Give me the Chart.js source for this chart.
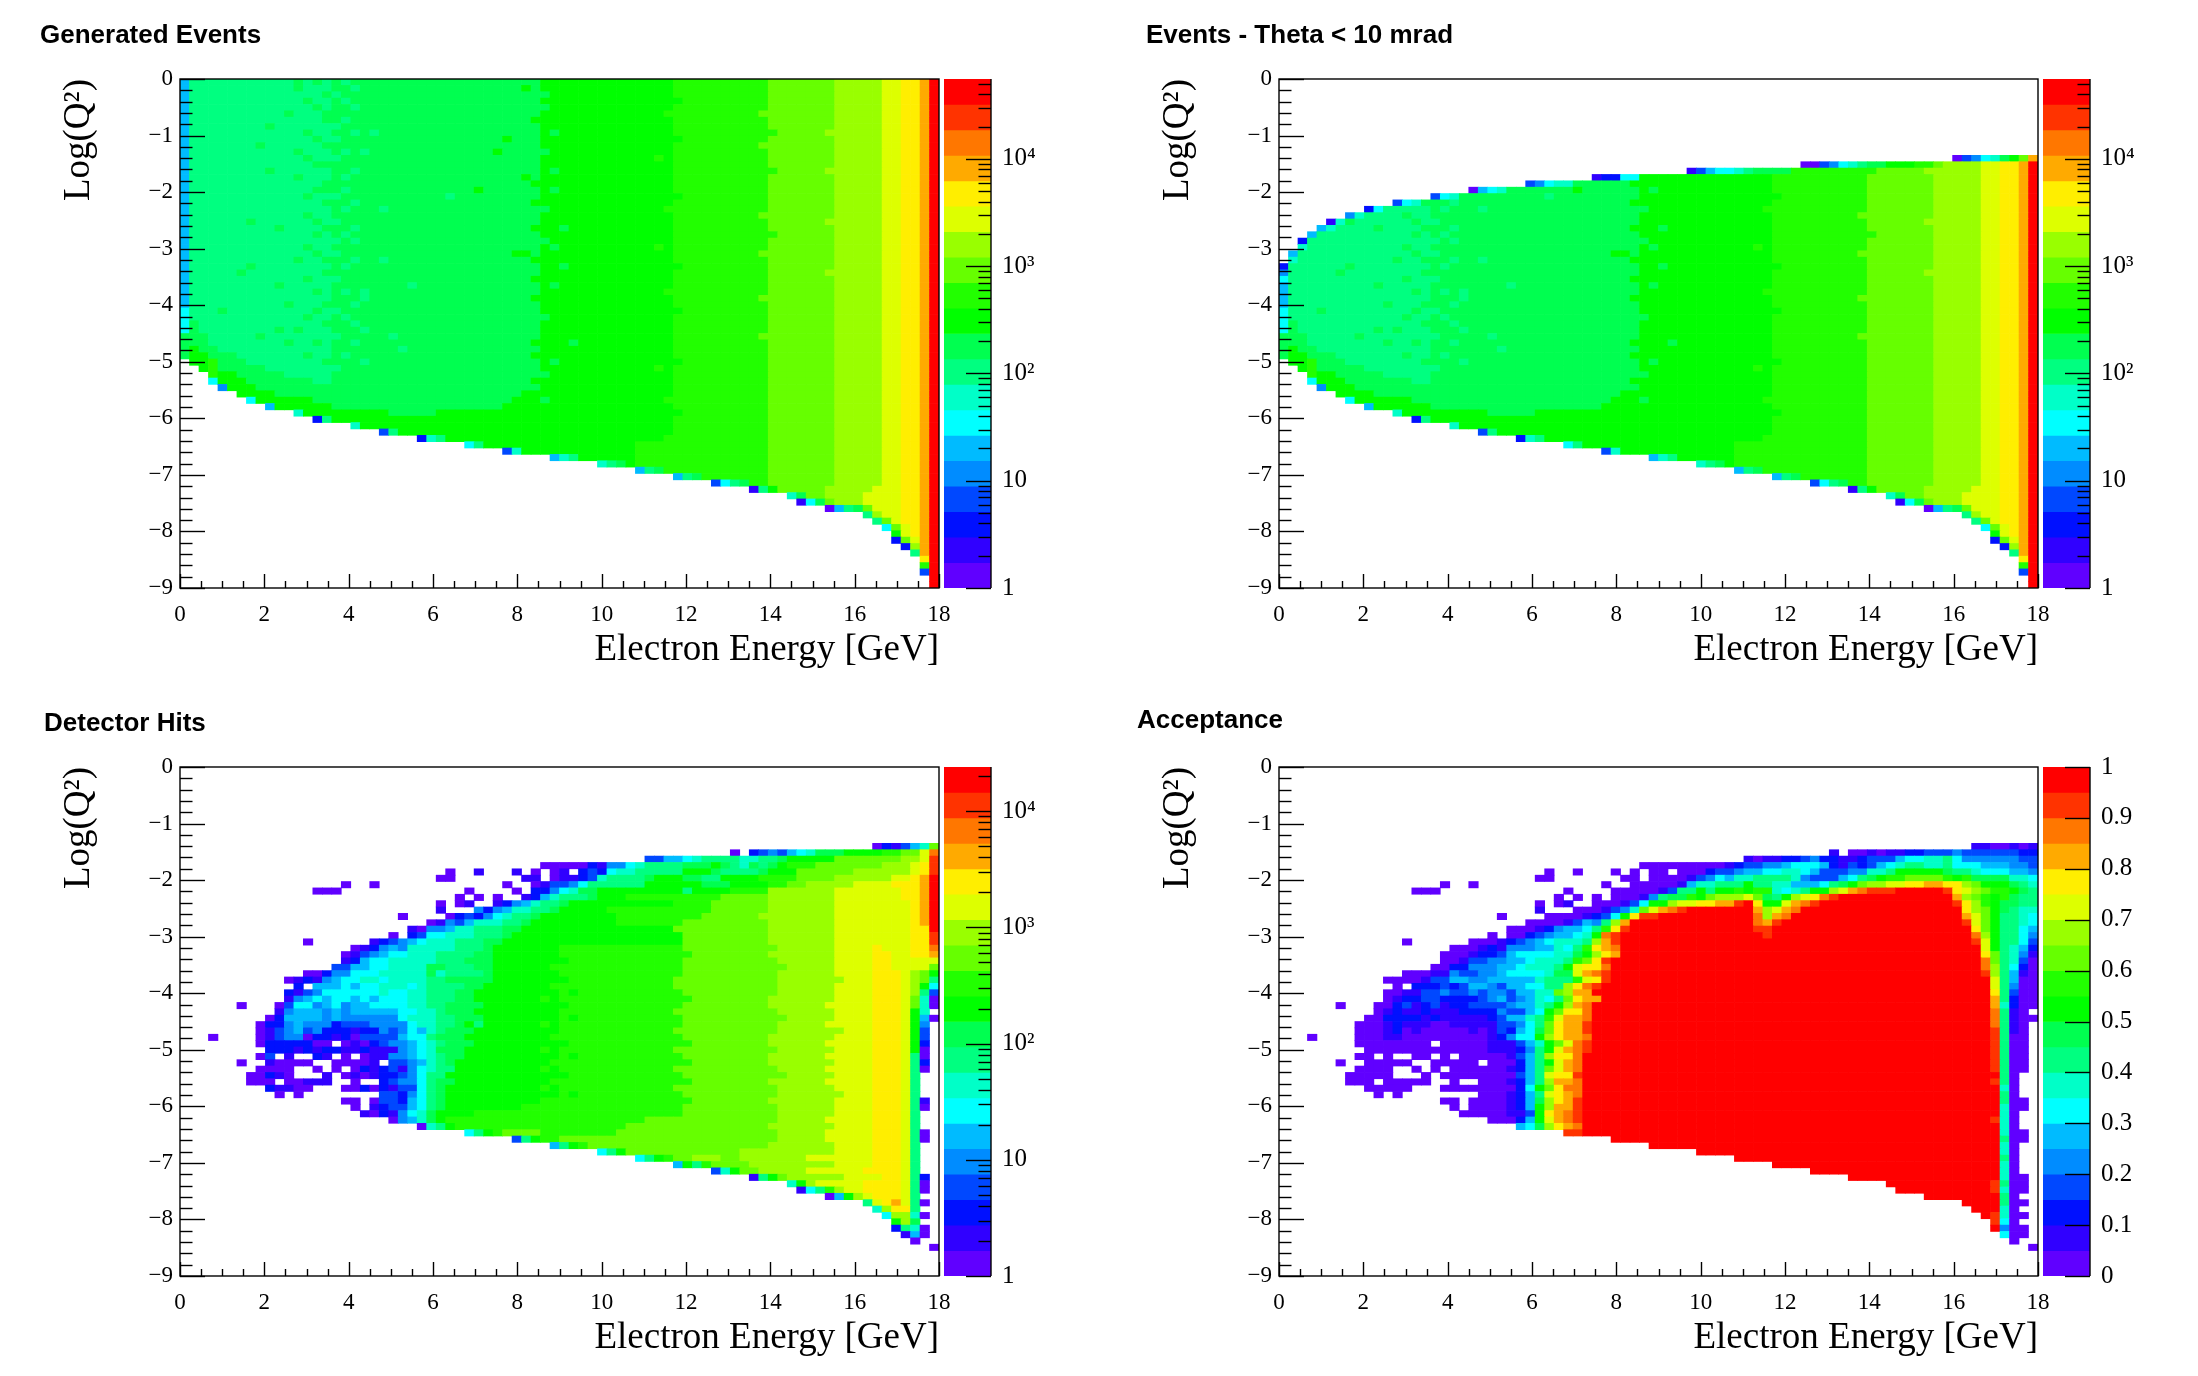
<!DOCTYPE html>
<html>
<head>
<meta charset="utf-8">
<title>Acceptance</title>
<script src="https://cdn.jsdelivr.net/npm/chart.js@4"></script>
<style>
  html, body { margin: 0; background: #fff; }
  #page { position: relative; width: 2198px; height: 1376px; overflow: hidden; }
  canvas { position: absolute; }
</style>
</head>
<body>
<div id="page"></div>
<script>
// tick labels
var energyTicks = [0, 2, 4, 6, 8, 10, 12, 14, 16, 18];
var q2Ticks = [-9, -8, -7, -6, -5, -4, -3, -2, -1, 0];
var logBarTicks = [1, 10, 100, 1000, 10000];
var logBarLabels = ['1', '10', '10\u00b2', '10\u00b3', '10\u2074'];
var acceptanceBarTicks = [0, 0.1, 0.2, 0.3, 0.4, 0.5, 0.6, 0.7, 0.8, 0.9, 1];
var acceptanceBarLabels = ['0', '0.1', '0.2', '0.3', '0.4', '0.5', '0.6', '0.7', '0.8', '0.9', '1'];

// contour colours, bottom of the palette to the top
var contourColors = ['#6000ff', '#3000ff', '#0010ff', '#0048ff', '#008cff', '#00bbff', '#00ffff', '#00ffc8', '#00ff80', '#00ff50',
                     '#00ff00', '#22ff00', '#66ff00', '#99ff00', '#ddff00', '#ffee00', '#ffaa00', '#ff7700', '#ff3300', '#ff0000'];

// each list below is [start, level, start, level, ...] in 80x80 bins, level -1 is an empty bin
// generated events, per energy bin (index), start = Q2 bin counted from the top
var generatedColumns = [
  [0,5,36,6,40,9,44,-1], [0,8,38,9,42,10,45,-1], [0,8,40,9,43,10,46,-1], [0,8,42,9,44,11,47,6,48,-1], [0,8,43,9,46,10,48,4,49,-1],
  [0,8,43,9,46,10,49,-1], [0,8,44,9,47,10,50,-1], [0,8,45,9,48,10,50,6,51,-1], [0,8,45,9,49,10,51,-1], [0,8,46,9,49,10,51,5,52,-1],
  [0,8,46,9,50,10,52,-1], [0,8,47,9,50,10,52,-1], [0,8,47,9,50,10,52,7,53,-1], [0,8,47,9,50,10,53,-1], [0,8,48,9,51,10,53,2,54,-1],
  [0,8,48,9,51,10,53,8,54,-1], [0,9,52,10,54,-1], [0,9,52,10,54,-1], [0,9,52,10,54,7,55,-1], [0,9,52,10,55,-1],
  [0,9,52,10,55,-1], [0,9,52,10,55,3,56,-1], [0,9,53,10,55,8,56,-1], [0,9,53,10,56,-1], [0,9,53,10,56,-1],
  [0,9,53,10,56,2,57,-1], [0,9,53,10,56,7,57,-1], [0,9,52,10,56,8,57,-1], [0,9,52,10,57,-1], [0,9,52,10,57,-1],
  [0,9,52,10,57,6,58,-1], [0,9,52,10,57,8,58,-1], [0,9,52,10,58,-1], [0,9,52,10,58,-1], [0,9,51,10,58,3,59,-1],
  [0,9,50,10,58,7,59,-1], [0,9,49,10,59,-1], [0,9,49,10,59,-1], [0,10,59,-1], [0,10,59,5,60,-1],
  [0,10,59,7,60,-1], [0,10,59,8,60,-1], [0,10,60,-1], [0,10,60,-1], [0,10,60,7,61,-1],
  [0,10,60,8,61,-1], [0,10,60,9,61,-1], [0,10,61,-1], [0,10,57,11,61,5,62,-1], [0,10,57,11,61,8,62,-1],
  [0,10,57,11,61,9,62,-1], [0,10,56,11,62,-1], [0,11,62,5,63,-1], [0,11,62,8,63,-1], [0,11,62,9,63,-1],
  [0,11,63,-1], [0,11,63,3,64,-1], [0,11,63,6,64,-1], [0,11,63,8,64,-1], [0,11,63,9,64,-1],
  [0,11,64,1,65,-1], [0,11,64,8,65,-1], [0,12,64,10,65,-1], [0,12,65,-1], [0,12,65,7,66,-1],
  [0,12,65,9,66,1,67,-1], [0,12,66,6,67,-1], [0,12,66,9,67,-1], [0,12,64,13,66,12,67,0,68,-1], [0,13,67,5,68,-1],
  [0,13,67,8,68,-1], [0,13,67,9,68,-1], [0,13,65,14,67,12,68,8,69,-1], [0,13,64,14,68,13,69,8,70,-1], [0,14,69,12,70,6,71,-1],
  [0,14,70,12,71,10,72,2,73,-1], [0,15,70,14,72,12,73,2,74,-1], [0,15,72,14,73,13,74,8,75,-1], [0,16,75,15,76,11,77,3,78,-1], [0,19]
];
// [energy bin, Q2 bin, level] of the single bins that stand out from their neighbours
var generatedSpecks = [
  [12,0,9],[12,1,9],[11,5,9],[9,7,9],[8,10,9],[12,11,9],[9,14,9],[12,15,9],[7,22,9],[10,23,9],[6,30,9],[7,29,9],[12,28,9],[10,32,9],[11,35,9],[4,36,9],[12,39,9],[10,39,9],[8,40,9],[11,41,9],
  [14,0,9],[15,2,9],[15,6,9],[15,13,9],[15,17,9],[14,24,9],[15,38,9],
  [17,0,8],[18,4,8],[20,8,8],[16,9,8],[19,11,8],[17,15,8],[28,18,8],[17,20,8],[21,20,8],[18,23,8],[16,25,8],[18,25,8],[21,28,8],[17,29,8],[19,33,8],[19,34,8],[24,32,8],[19,39,8],[22,40,8],[18,41,8],[23,42,8],[19,44,8],
  [40,23,9],[39,17,9],[40,29,9],[39,32,9],[41,41,9],[39,44,9],[36,1,10],[34,9,10],[33,11,10],[31,17,10],[36,15,10],[35,27,10],[36,27,10],[37,34,10],
  [51,5,11],[50,12,11],[51,20,11],[50,26,11],[51,33,11],[50,45,11],[51,50,11],[61,5,12],[61,10,12],[61,21,12],[61,27,12],[61,34,12],[61,40,12],[62,8,11],[62,14,11],[62,24,11],[68,8,13],[68,14,13],[68,22,13],[68,30,13]
];
// [energy bin, level, [Q2 bins]] where a contour edge steps over by one bin
var generatedEdges = [
  [13,9,[3,8,12,18,21,26,31,37,43]], [14,9,[4,9,13,17,22,27,33,36,41]], [15,9,[5,10,16,19,23,28,30,35,44]],
  [16,8,[2,7,12,18,22,27,31,36,40,45]], [17,8,[3,6,11,17,24,33,37,43]], [18,8,[1,8,14,19,28,35,38]],
  [37,10,[6,16,19,23,28,31,41,43,47]], [38,9,[2,4,11,20,25,37,46,50]], [39,9,[8,14,26]], [52,10,[3,9,18,29,36,44,52]]
];

// theta < 10 mrad: first filled Q2 bin per energy bin, and the first bins along that edge
var thetaTop = [29,27,25,24,23,22,22,21,21,20, 20,20,19,19,19,19,18,18,18,18, 17,17,17,17,17,17,16,16,16,16, 16,16,16,15,15,15,15,15,15,15,
                15,15,15,14,14,14,14,14,14,14, 14,14,14,14,14,13,13,13,13,13, 13,13,13,13,13,13,13,13,13,13, 13,12,12,12,12,12,12,12,12,12];
var thetaEdge = [
  [0,29,2],[0,30,4],[0,31,6],[1,27,5],[1,28,7],[2,25,2],[2,26,7],[3,24,5],[4,23,5],[5,22,1],[5,23,7],[6,22,7],[7,21,4],[8,21,7],[9,20,2],[10,20,6],
  [12,19,3],[13,19,6],[14,19,7],[16,18,3],[17,18,6],[18,18,7],[20,17,0],[21,17,5],[22,17,6],[23,17,7],[26,16,3],[27,16,4],[28,16,6],[29,16,7],[30,16,7],
  [33,15,1],[34,15,2],[35,15,2],[36,15,6],[37,15,6],[43,14,1],[44,14,3],[45,14,5],[46,14,6],[47,14,6],[48,14,7],[49,14,8],[50,14,9],[51,14,9],[52,14,9],[53,14,9],
  [55,13,0],[56,13,0],[57,13,3],[58,13,4],[59,13,6],[60,13,7],[61,13,8],[62,13,9],[63,13,9],[64,13,10],[65,13,10],[66,13,10],[67,13,11],[68,13,11],[69,13,12],
  [71,12,0],[72,12,3],[73,12,4],[74,12,6],[75,12,7],[76,12,9],[77,12,10],[78,12,12],[79,12,16],[79,13,19],[78,13,16]
];

// detector hits, per Q2 bin (key), start = energy bin. hitsMiddle is the common right part of the middle rows
var hitsMiddle = [40,11,53,12,63,13,69,14,73,15,76,14];
var hitsRows = {
  12:[73,0,74,2,75,1,76,3,77,5,78,7,79,12],
  13:[58,0,59,-1,60,2,61,3,62,4,63,3,64,5,65,6,66,7,67,9,70,10,74,11,76,12,78,14,79,17],
  14:[49,3,51,5,53,6,54,7,55,8,59,7,61,8,63,9,64,10,69,12,76,13,78,14,79,18],
  15:[38,0,43,2,44,1,45,4,47,6,48,7,49,8,53,9,56,10,57,9,58,8,59,7,60,9,61,8,62,9,63,10,64,11,67,12,74,13,77,14,78,15,79,18],
  16:[28,0,29,-1,31,1,32,-1,35,1,36,-1,37,0,38,-1,39,0,40,1,41,-1,42,2,43,3,44,2,45,6,46,7,48,8,53,10,56,9,57,8,61,9,62,10,65,12,71,13,77,14,78,15,79,18],
  17:[27,0,29,-1,36,1,38,-1,39,0,40,1,42,2,43,3,44,7,45,8,49,9,50,10,53,9,55,8,57,10,61,11,65,12,69,13,75,14,77,15,78,16,79,19],
  18:[17,0,18,-1,20,0,21,-1,34,0,35,-1,37,0,38,1,39,3,41,4,42,6,43,8,49,10,55,9,58,10,62,11,64,12,66,13,71,14,75,15,78,16,79,19],
  19:[14,0,17,-1,30,0,31,-1,35,0,36,-1,37,2,39,4,40,6,41,7,42,9,44,10,53,8,54,10,58,11,62,13,69,14,76,15,78,16,79,19],
  20:[29,0,30,-1,31,0,32,-1,33,0,34,-1,36,1,37,2,38,5,39,7,40,8,43,9,44,10,47,11,57,12,62,13,69,14,76,15,78,16,79,19],
  21:[27,0,28,-1,29,0,30,1,31,-1,33,1,34,2,35,4,36,5,37,7,38,8,40,9,41,10,52,11,56,12,62,13,69,14,77,15,78,16,79,19],
  22:[27,1,28,-1,31,4,32,2,33,4,34,5,35,7,37,8,39,9,40,10,45,11,56,12,62,13,69,14,77,15,78,16,79,19],
  23:[23,0,24,-1,28,0,29,2,30,3,31,2,32,4,33,6,34,7,35,8,37,9,38,10,46,11,55,12,61,13,69,14,77,15,78,16,79,19],
  24:[26,0,27,1,28,4,29,3,30,5,31,7,34,8,36,9,37,10,46,11,53,12,62,13,69,14,77,15,78,16,79,19],
  25:[24,1,25,0,26,4,28,5,29,7,31,8,34,9,36,10,52,12,62,13,69,14,77,15,78,15,79,19],
  26:[22,0,23,-1,24,2,25,3,26,6,28,7,31,8,34,9,35,10,53,12,62,13,69,14,77,15,79,18],
  27:[13,0,14,-1,20,1,21,2,22,3,23,4,24,5,25,6,26,7,29,8,32,9,34,10,53,12,62,13,69,14,77,15,79,18],
  28:[18,0,19,1,20,2,21,4,22,5,23,4,24,7,29,8,32,9,33,10].concat(hitsMiddle),
  29:[17,0,18,1,19,3,20,4,21,5,22,6,24,7,27,8,31,9,33,10].concat(hitsMiddle),
  30:[17,1,18,2,19,5,20,6,22,7,27,8,30,9,33,10].concat(hitsMiddle),
  31:[16,3,18,5,20,6,22,7,26,9,28,8,31,9,33,10].concat(hitsMiddle),
  32:[13,0,15,2,16,4,18,6,21,7,26,9,27,7,28,8,32,9,33,10].concat(hitsMiddle),
  33:[11,0,12,1,13,2,14,1,15,4,16,5,17,6,19,7,21,6,22,7,26,8,28,9,33,10].concat(hitsMiddle),
  34:[12,2,13,-1,14,5,17,6,18,5,19,6,21,7,24,6,25,7,26,8,30,9,32,10].concat(hitsMiddle),
  35:[11,2,12,1,13,3,14,4,15,6,21,7,22,6,24,7,26,8,29,9,31,10].concat(hitsMiddle),
  36:[11,1,12,4,13,5,14,6,15,5,16,6,18,5,19,6,20,5,21,6,24,7,26,8,29,9,31,10].concat(hitsMiddle),
  37:[6,0,7,-1,10,0,11,3,12,6,14,4,15,5,16,6,17,4,18,5,20,6,24,7,26,8,28,9,32,10].concat(hitsMiddle),
  38:[10,1,11,4,12,5,15,4,16,5,17,4,18,5,23,6,25,7,27,8,28,9,31,10].concat(hitsMiddle),
  39:[9,0,10,2,11,5,15,4,16,5,17,4,23,6,24,7,27,8,29,9,32,10].concat(hitsMiddle),
  40:[8,0,9,2,11,4,12,5,13,4,16,2,17,3,20,4,24,6,25,7,27,8,29,9,30,10,31,8,32,10].concat(hitsMiddle),
  41:[8,0,9,1,10,3,11,4,12,5,13,3,14,4,15,2,18,1,19,2,21,4,22,3,23,4,24,6,25,5,26,7,27,8,28,9,31,10].concat(hitsMiddle),
  42:[3,0,4,-1,8,0,9,1,10,3,11,4,13,0,14,2,16,1,17,2,18,0,19,3,23,5,24,6,26,8,27,9,30,10].concat(hitsMiddle),
  43:[8,0,9,2,14,0,16,-1,17,0,18,1,19,0,20,2,21,3,22,4,24,5,25,6,26,7,27,8,28,9,31,10].concat(hitsMiddle),
  44:[9,2,12,1,13,2,14,1,15,2,17,1,19,2,20,1,23,4,24,5,25,6,26,7,27,9,30,10].concat(hitsMiddle),
  45:[8,0,9,3,10,-1,11,1,12,-1,14,2,15,1,16,-1,17,0,18,-1,19,0,20,1,22,4,24,5,25,6,26,7,27,8,28,9,30,10].concat(hitsMiddle),
  46:[6,0,7,-1,9,1,10,0,14,-1,16,0,20,1,21,-1,22,3,24,4,25,5,26,7,27,8,28,9,29,10].concat(hitsMiddle),
  47:[8,0,12,-1,14,0,15,-1,16,0,17,-1,18,0,19,2,20,1,21,2,22,3,23,1,24,4,25,6,26,7,27,8,29,10].concat(hitsMiddle),
  48:[7,0,9,2,10,1,11,0,12,-1,15,1,16,-1,17,0,18,1,19,0,20,1,21,2,23,3,24,4,25,6,26,8,28,10].concat(hitsMiddle),
  49:[7,0,10,-1,11,0,13,1,16,-1,18,0,19,-1,21,2,22,3,23,4,25,6,26,8,27,9,29,10].concat(hitsMiddle),
  50:[9,2,10,1,12,0,14,-1,17,0,19,2,20,0,21,2,22,1,23,3,25,6,26,8,27,9,28,10].concat(hitsMiddle),
  51:[10,0,11,-1,12,0,13,-1,21,3,23,2,24,4,25,6,26,8,27,9,28,10].concat(hitsMiddle),
  52:[17,0,19,-1,20,0,21,3,23,2,24,5,25,6,26,8,27,9,28,10,38,11,53,12,63,13,69,14,73,15,76,14],
  53:[18,0,19,-1,20,1,21,2,22,3,24,5,25,6,26,8,27,9,28,10,36,11,53,12,63,13,69,14,73,15,76,14],
  54:[19,1,20,0,21,2,22,1,23,4,24,6,25,7,26,9,27,10,31,11,53,12,63,13,69,14,73,15,76,14],
  55:[22,0,23,4,24,5,25,7,26,9,27,10,28,11,49,12,63,13,69,14,73,15,76,14],
  56:[25,0,26,7,27,8,28,10,29,11,47,12,63,13,69,14,73,15,76,14],
  57:[30,6,31,8,32,10,33,11,34,12,38,11,46,12,63,13,68,14,73,15,76,14],
  58:[35,3,36,8,37,10,38,11,40,12,63,13,68,14,73,15,76,14],
  59:[39,5,40,8,41,10,42,11,43,12,62,13,69,14,73,15,76,14],
  60:[44,6,45,8,46,10,47,12,59,13,69,14,73,15,76,14],
  61:[48,6,49,8,50,10,51,11,52,12,54,13,57,12,59,13,66,14,73,15,76,14],
  62:[52,5,53,10,54,8,55,11,56,12,60,13,69,14,73,15,76,14],
  63:[56,3,57,7,58,10,59,12,61,13,66,14,72,15,76,14],
  64:[60,1,61,8,62,10,63,12,64,13,70,14,74,15,76,14],
  65:[64,7,65,10,66,13,67,14,72,15,76,14],
  66:[65,1,66,6,67,8,68,11,69,13,70,14,72,15,76,14],
  67:[68,0,69,5,70,10,71,13,72,14,73,15,76,14],
  68:[72,8,73,14,74,15,75,16,76,14],
  69:[73,7,74,13,75,15],
  70:[74,6,75,13],
  71:[75,10,76,13],
  72:[75,2,76,8],
  73:[76,1]
};
// last energy bins of the hits, per energy bin (key), start = Q2 bin
var hitsLastColumns = {
  74:[28,14,29,15,69,13,70,6,71,-1],
  75:[28,14,32,15,68,16,69,15,70,13,71,10,72,2,73,-1],
  77:[28,15,30,14,32,13,36,12,38,10,45,8,70,7,71,9,72,7,73,5,74,0,75,-1],
  78:[28,15,30,14,32,12,34,10,35,8,36,7,39,5,40,4,41,3,43,2,44,0,46,2,47,0,48,-1,52,1,53,0,54,-1,57,0,59,-1,64,2,65,0,67,-1,68,0,69,-1,70,0,71,-1,72,0,74,-1],
  79:[28,17,29,16,30,14,31,12,32,10,33,8,34,6,35,3,36,0,38,-1,39,0,40,-1,75,0,76,-1]
};
var hitsEdges = [
  [52,12,[33,34,38,41,44,47,50]], [53,11,[29,36,43,46,49,52]], [62,13,[29,36,37,42,43,45,46,49,52,56]], [63,12,[31,39,48]],
  [68,14,[37,40,43,45,47,49,55]], [69,13,[33,41,51]], [38,11,[36,40,44,47,50]], [39,11,[31,34,42,46,49]], [40,10,[30,33,37,43,48]], [41,10,[35,39,45,51]]
];

// acceptance, same layout as the hits
var acceptanceRows = {
  12:[73,1,75,0,77,1,78,0,79,1],
  13:[58,1,59,-1,60,0,62,1,63,0,64,1,66,2,68,3,71,4,72,3,78,2],
  14:[49,1,50,0,51,1,53,2,55,3,56,4,57,2,59,1,61,2,62,3,65,5,66,6,68,7,70,8,71,6,72,4,78,3],
  15:[38,0,47,1,48,2,49,3,51,4,53,5,54,6,57,5,58,2,59,1,60,3,61,2,62,3,63,5,64,6,65,7,66,8,68,7,70,8,71,6,74,5,77,4,79,3],
  16:[28,0,29,-1,31,0,32,-1,35,0,36,-1,37,0,38,-1,39,0,41,-1,42,0,45,2,46,3,48,4,49,5,51,6,53,7,55,6,56,5,57,3,60,4,62,7,64,8,65,10,70,9,71,8,73,7,74,6,77,5,79,4],
  17:[27,0,29,-1,36,0,38,-1,39,0,43,1,44,3,45,4,46,6,47,5,48,7,50,8,54,7,55,4,56,3,59,5,60,6,61,8,62,9,63,10,64,11,66,12,70,11,71,10,72,11,73,9,77,7,79,6],
  18:[17,0,18,-1,20,0,21,-1,34,0,35,-1,37,0,42,1,43,5,44,7,46,8,49,10,50,8,52,7,54,5,57,6,58,8,59,9,60,10,61,12,62,13,64,14,66,15,68,16,70,15,72,13,73,12,74,10,77,9,78,8,79,7],
  19:[14,0,17,-1,30,0,31,-1,35,0,40,1,41,3,42,8,44,10,45,8,46,10,48,11,49,10,50,11,52,7,53,6,54,7,55,8,56,10,58,13,59,14,60,16,61,17,62,18,65,19,70,18,71,15,72,14,73,13,74,12,75,11,77,10,78,9,79,8],
  20:[29,0,30,-1,31,0,32,-1,33,0,34,-1,35,0,38,1,39,4,40,8,41,9,43,11,44,10,45,12,46,13,49,14,50,12,51,9,52,8,53,10,54,13,55,14,56,15,57,17,58,18,59,19,71,16,72,13,73,12,74,11,75,10,76,11,77,9,78,8],
  21:[27,0,28,-1,29,0,30,1,31,-1,33,0,36,1,37,3,38,6,39,10,41,13,42,14,44,15,46,16,48,18,49,19,50,15,51,10,53,14,54,16,55,17,56,18,57,19,71,18,72,15,73,13,74,11,75,10,76,9,78,8],
  22:[27,1,28,-1,31,0,34,1,35,3,36,4,37,7,38,12,39,14,40,16,41,17,42,18,43,19,50,16,51,13,52,14,53,16,54,17,55,19,72,15,73,13,74,12,75,10,76,9,77,8,78,7],
  23:[23,0,24,-1,28,0,32,1,33,2,34,3,35,6,36,10,37,15,38,18,40,19,50,17,51,13,52,16,53,17,54,19,72,16,73,14,74,12,75,10,76,8,78,7,79,6],
  24:[26,0,30,1,31,3,32,5,33,4,34,8,35,13,36,16,37,19,50,17,51,16,52,18,53,19,72,18,73,14,74,12,75,10,76,8,78,7,79,6],
  25:[24,0,27,1,28,2,29,4,30,5,32,6,33,8,34,11,35,15,36,18,37,19,50,18,52,19,73,15,74,12,75,10,76,8,78,6,79,5],
  26:[22,0,23,-1,24,0,26,2,27,3,28,4,29,5,31,6,32,7,33,10,34,17,35,18,36,19,51,18,52,19,73,17,74,13,75,10,76,8,78,6,79,4],
  27:[13,0,14,-1,20,0,23,1,24,2,25,3,26,4,27,5,28,6,29,7,32,8,33,13,34,16,35,18,36,19,73,18,74,14,75,10,76,8,78,6,79,3],
  28:[18,0,21,1,22,2,23,1,24,4,27,5,29,7,30,6,31,8,32,11,33,15,34,16,35,17,36,19],
  29:[17,0,20,1,21,2,23,3,24,5,25,6,29,7,31,9,32,10,33,13,34,15,35,16,36,19],
  30:[17,0,19,1,20,3,22,4,24,5,26,6,27,7,30,8,31,11,32,12,33,15,34,18,35,19],
  31:[16,0,18,2,20,4,23,5,25,6,26,7,29,8,30,10,31,14,32,15,34,17,35,19],
  32:[13,0,16,1,18,4,19,3,21,4,23,5,24,6,28,7,29,9,31,14,32,16,33,17,34,18,35,19],
  33:[11,0,15,1,16,3,18,5,20,4,22,5,27,7,28,8,31,11,32,14,33,15,34,18,35,19],
  34:[12,0,13,-1,14,2,17,3,18,2,19,3,20,5,22,4,23,3,24,5,26,6,28,8,30,13,31,15,32,17,33,18,34,19],
  35:[11,0,13,1,15,3,17,4,18,3,20,4,21,3,22,4,24,3,25,5,27,7,29,12,30,13,31,16,33,19],
  36:[11,0,12,1,13,2,15,3,17,2,21,3,22,4,23,5,24,3,25,4,26,5,27,7,28,6,29,8,30,12,31,15,32,16,34,19],
  37:[6,0,7,-1,10,0,12,2,13,3,14,1,15,2,16,3,17,1,18,2,20,3,24,4,25,5,27,7,28,8,29,10,30,13,31,16,32,17,33,19],
  38:[10,0,11,1,12,2,13,1,15,2,16,1,19,2,23,4,24,3,26,5,27,6,28,10,29,12,30,15,32,17,33,19],
  39:[9,0,11,2,15,1,16,2,17,1,22,2,23,3,24,5,26,7,27,8,28,11,29,14,30,16,32,17,33,19],
  40:[8,0,11,1,12,2,13,1,16,0,18,1,23,3,25,4,26,6,27,8,28,12,29,15,30,16,32,18,33,19],
  41:[8,0,11,1,12,2,13,0,14,1,15,0,20,1,21,0,22,1,23,3,24,2,25,5,26,6,27,9,28,12,29,15,30,16,32,18,33,19],
  42:[3,0,4,-1,8,0,11,1,13,0,22,1,23,2,24,4,25,6,27,10,28,13,29,15,30,16,32,17,33,19],
  43:[8,0,16,-1,17,0,22,1,25,3,26,5,27,7,28,10,29,12,30,14,31,17,32,18,33,19],
  44:[9,0,22,1,25,2,26,4,27,8,28,10,29,14,30,16,31,17,32,18,33,19],
  45:[8,0,10,-1,11,0,12,-1,14,0,16,-1,17,0,18,-1,19,0,24,1,25,3,26,5,27,8,28,13,29,15,31,17,32,19],
  46:[6,0,7,-1,9,0,14,-1,16,0,21,-1,22,0,25,2,26,5,27,8,28,10,29,14,30,16,31,17,32,19],
  47:[8,0,12,-1,14,0,15,-1,16,0,17,-1,18,0,24,1,25,2,26,5,27,8,28,12,29,14,30,16,31,17,32,19],
  48:[7,0,12,-1,15,0,16,-1,17,0,25,3,26,5,27,8,28,14,29,15,31,18,32,19],
  49:[7,0,10,-1,11,0,16,-1,18,0,19,-1,21,0,24,1,25,2,26,5,27,8,28,13,29,16,31,17,32,19],
  50:[9,0,14,-1,17,0,25,2,26,6,27,10,28,12,29,15,30,17,32,19],
  51:[10,0,11,-1,12,0,13,-1,21,0,24,1,25,2,26,5,27,8,28,14,29,15,30,16,31,17,32,19],
  52:[17,0,19,-1,20,0,24,1,25,2,26,5,27,9,28,13,29,15,30,16,31,18,32,19],
  53:[18,0,19,-1,20,0,24,1,25,2,26,5,27,10,28,13,29,16,31,18,32,19],
  54:[19,0,24,1,26,3,27,10,28,15,29,16,30,17,31,18,32,19],
  55:[22,0,25,2,26,5,27,10,28,14,29,16,30,17,31,18,32,19],
  56:[25,5,26,6,27,9,28,13,29,15,30,16,31,17,32,19],
  57:[30,18,32,19], 58:[35,19], 59:[39,19], 60:[44,19], 61:[48,19], 62:[52,19], 63:[56,19], 64:[60,19],
  65:[64,19], 66:[65,19], 67:[68,19], 68:[72,19], 69:[73,19], 70:[74,19], 71:[75,19], 72:[75,19]
};
var acceptanceLastColumns = {
  74:[28,14,29,15,30,17,32,18,33,19,71,-1],
  75:[28,10,29,12,31,13,33,14,35,15,36,16,38,17,41,18,48,19,49,18,50,19,55,18,56,19,65,18,67,19,70,18,72,19,73,-1],
  76:[28,8,37,7,38,8,50,7,51,8,53,7,58,8,59,7,61,8,62,7,65,8,66,7,67,8,69,7,71,6,72,4,73,6,74,-1],
  77:[28,7,31,6,32,5,34,4,35,3,36,2,38,1,42,0,75,-1],
  78:[28,5,29,4,30,3,31,2,32,1,33,0,48,-1,52,0,54,-1,57,0,59,-1,64,0,67,-1,68,0,69,-1,70,0,71,-1,72,0,74,-1],
  79:[28,2,29,1,30,0,38,-1,39,0,40,-1,75,0,76,-1]
};

var BINS = 80;
var energyBin = 18 / BINS;
var q2Bin = 9 / BINS;

function emptyGrid() {
  var grid = [];
  for (var r = 0; r < BINS; r++) {
    grid.push(new Array(BINS).fill(-1));
  }
  return grid;
}

// walks a [start, level, ...] list and hands every bin to set()
function eachRun(runs, set) {
  for (var i = 0; i < runs.length; i += 2) {
    var end = i + 2 < runs.length ? runs[i + 2] : BINS;
    for (var k = runs[i]; k < end; k++) set(k, runs[i + 1]);
  }
}

function paintColumn(grid, col, runs) {
  eachRun(runs, function(row, level) { grid[row][col] = level; });
}

function paintRows(grid, rows) {
  Object.keys(rows).forEach(function(row) {
    eachRun(rows[row], function(col, level) { grid[row][col] = level; });
  });
}

function paintColumns(grid, cols) {
  Object.keys(cols).forEach(function(col) { paintColumn(grid, col, cols[col]); });
}

function paintBins(grid, bins) {
  bins.forEach(function(b) { if (grid[b[1]][b[0]] >= 0) grid[b[1]][b[0]] = b[2]; });
}

function paintEdges(grid, edges) {
  edges.forEach(function(e) {
    e[2].forEach(function(row) { if (grid[row][e[0]] >= 0) grid[row][e[0]] = e[1]; });
  });
}

function toCells(grid) {
  var cells = [];
  for (var r = 0; r < BINS; r++) {
    for (var c = 0; c < BINS; c++) {
      if (grid[r][c] < 0) continue;
      cells.push({ x: (c + 0.5) * energyBin, y: [-(r + 1) * q2Bin, -r * q2Bin], level: grid[r][c] });
    }
  }
  return cells;
}

var generatedGrid = emptyGrid();
generatedColumns.forEach(function(runs, col) { paintColumn(generatedGrid, col, runs); });
paintBins(generatedGrid, generatedSpecks);
paintEdges(generatedGrid, generatedEdges);

var thetaGrid = generatedGrid.map(function(row) { return row.slice(); });
thetaTop.forEach(function(top, col) {
  for (var r = 0; r < top; r++) thetaGrid[r][col] = -1;
});
paintBins(thetaGrid, thetaEdge);

var hitsGrid = emptyGrid();
paintRows(hitsGrid, hitsRows);
paintEdges(hitsGrid, hitsEdges);
paintColumns(hitsGrid, hitsLastColumns);

var acceptanceGrid = emptyGrid();
paintRows(acceptanceGrid, acceptanceRows);
paintColumns(acceptanceGrid, acceptanceLastColumns);

var PLOT_W = 759, PLOT_H = 509;
var page = document.getElementById('page');

function addCanvas(left, top, w, h) {
  var c = document.createElement('canvas');
  c.width = w;
  c.height = h;
  c.style.left = left + 'px';
  c.style.top = top + 'px';
  c.style.width = w + 'px';
  c.style.height = h + 'px';
  page.appendChild(c);
  return c;
}

function serif(size) {
  return { family: 'Liberation Serif', size: size };
}

function strokeTicks(ctx, scale, values, length) {
  var area = scale.chart.chartArea;
  values.forEach(function(v) {
    var p = Math.round(scale.getPixelForValue(v)) + 0.5;
    ctx.beginPath();
    if (scale.axis === 'x') {
      ctx.moveTo(p, area.bottom);
      ctx.lineTo(p, area.bottom - length);
    } else if (scale.position === 'left') {
      ctx.moveTo(area.left, p);
      ctx.lineTo(area.left + length, p);
    } else {
      ctx.moveTo(area.right, p);
      ctx.lineTo(area.right - length, p);
    }
    ctx.stroke();
  });
}

function minorsBetween(majors, parts) {
  var out = [];
  for (var i = 0; i + 1 < majors.length; i++) {
    for (var k = 1; k < parts; k++) {
      out.push(majors[i] + (majors[i + 1] - majors[i]) * k / parts);
    }
  }
  return out;
}

// frame and inward ticks on top of the cells, the way the plots have them
var framePlugin = {
  id: 'frameTicks',
  afterDatasetsDraw: function(chart) {
    var ctx = chart.ctx, a = chart.chartArea;
    ctx.save();
    ctx.strokeStyle = '#000';
    ctx.lineWidth = 1.4;
    strokeTicks(ctx, chart.scales.x, energyTicks, 14);
    strokeTicks(ctx, chart.scales.x, minorsBetween(energyTicks, 4), 7);
    strokeTicks(ctx, chart.scales.y, q2Ticks, 25);
    strokeTicks(ctx, chart.scales.y, minorsBetween(q2Ticks, 5), 12.5);
    ctx.strokeRect(a.left, a.top, a.right - a.left, a.bottom - a.top);
    ctx.restore();
  }
};

function drawPanel(opt) {
  var canvas = addCanvas(opt.left, opt.top, 960, 688);
  new Chart(canvas.getContext('2d'), {
    type: 'bar',
    data: {
      datasets: [{
        data: toCells(opt.grid),
        barThickness: PLOT_W / BINS,
        inflateAmount: 0.33,
        borderWidth: 0,
        backgroundColor: function(c) { return c.raw ? contourColors[c.raw.level] : '#fff'; }
      }]
    },
    plugins: [framePlugin],
    options: {
      responsive: false,
      animation: false,
      events: [],
      layout: { autoPadding: false, padding: { left: opt.titleLeft, right: 21, top: 0, bottom: 15 } },
      plugins: {
        legend: { display: false },
        tooltip: { enabled: false },
        title: {
          display: true,
          text: opt.title,
          align: 'start',
          color: '#000',
          font: { family: 'Liberation Sans', size: 26, weight: 'bold', lineHeight: 1.2 },
          padding: { top: opt.titleTop, bottom: 79 - 31.2 - opt.titleTop }
        }
      },
      scales: {
        x: {
          type: 'linear',
          offset: false,
          min: 0,
          max: 18,
          grid: { display: false, offset: false, drawTicks: false },
          border: { display: false },
          afterBuildTicks: function(axis) { axis.ticks = energyTicks.map(function(v) { return { value: v }; }); },
          afterFit: function(axis) {
            axis.height = 85;
            axis.paddingLeft = 0;
            axis.paddingRight = 0;
          },
          ticks: { color: '#000', font: serif(23), padding: 13, maxRotation: 0, autoSkip: false },
          title: {
            display: true,
            text: 'Electron Energy [GeV]',
            align: 'end',
            color: '#000',
            font: serif(37),
            padding: { top: 0, bottom: 1 }
          }
        },
        y: {
          min: -9,
          max: 0,
          grid: { display: false, drawTicks: false },
          border: { display: false },
          afterBuildTicks: function(axis) { axis.ticks = q2Ticks.map(function(v) { return { value: v }; }); },
          afterFit: function(axis) {
            axis.width = 180 - opt.titleLeft;
            axis.paddingTop = 0;
            axis.paddingBottom = 0;
          },
          ticks: {
            color: '#000',
            font: serif(23),
            padding: 7,
            autoSkip: false,
            callback: function(v) { return v === 0 ? '0' : '\u2212' + Math.abs(v); }
          },
          title: {
            display: true,
            text: 'Log(Q\u00b2)',
            align: 'end',
            color: '#000',
            font: serif(37),
            padding: { top: 79 - 22 - opt.titleLeft, bottom: 0 }
          }
        }
      }
    }
  });
}

function barEdges(lowest, highest, isLog) {
  var edges = [];
  for (var i = 0; i <= contourColors.length; i++) {
    var f = i / contourColors.length;
    edges.push(isLog ? Math.pow(10, Math.log10(lowest) + f * (Math.log10(highest) - Math.log10(lowest))) : lowest + f * (highest - lowest));
  }
  return edges;
}

function drawColorBar(opt) {
  var canvas = addCanvas(opt.left - 11, opt.top - 15, 160, PLOT_H + 30);
  var edges = barEdges(opt.min, opt.max, opt.log);
  var boxes = contourColors.map(function(color, i) {
    return { x: 0.5, y: [edges[i], edges[i + 1]], level: i };
  });
  var minor = [];
  if (opt.log) {
    for (var d = 1; d < opt.max; d *= 10) {
      for (var m = 2; m < 10; m++) {
        if (d * m <= opt.max) minor.push(d * m);
      }
    }
  }
  new Chart(canvas.getContext('2d'), {
    type: 'bar',
    data: {
      datasets: [{
        data: boxes,
        barThickness: 47,
        inflateAmount: 0.33,
        borderWidth: 0,
        backgroundColor: function(c) { return c.raw ? contourColors[c.raw.level] : '#fff'; }
      }]
    },
    plugins: [{
      id: 'barTicks',
      afterDatasetsDraw: function(chart) {
        var ctx = chart.ctx, a = chart.chartArea, y = chart.scales.y;
        ctx.save();
        ctx.strokeStyle = '#000';
        ctx.lineWidth = 1.4;
        strokeTicks(ctx, y, opt.ticks, 25);
        strokeTicks(ctx, y, minor, 12.5);
        ctx.beginPath();
        ctx.moveTo(a.right, a.top);
        ctx.lineTo(a.right, a.bottom);
        ctx.stroke();
        ctx.restore();
      }
    }],
    options: {
      responsive: false,
      animation: false,
      events: [],
      layout: { autoPadding: false, padding: { left: 11, right: 0, top: 15, bottom: 15 } },
      plugins: { legend: { display: false }, tooltip: { enabled: false }, title: { display: false } },
      scales: {
        x: { type: 'linear', offset: false, min: 0, max: 1, display: false, grid: { offset: false } },
        y: {
          type: opt.log ? 'logarithmic' : 'linear',
          position: 'right',
          min: opt.min,
          max: opt.max,
          grid: { display: false, drawTicks: false },
          border: { display: false },
          afterBuildTicks: function(axis) { axis.ticks = opt.ticks.map(function(v) { return { value: v }; }); },
          // the end labels may stick out, the bar itself keeps the full plot height
          afterFit: function(axis) {
            axis.width = 160 - 11 - 47;
            axis.paddingTop = 0;
            axis.paddingBottom = 0;
          },
          ticks: {
            color: '#000',
            font: serif(25),
            padding: 11,
            autoSkip: false,
            callback: function(v) { return opt.labels[opt.ticks.indexOf(v)]; }
          }
        }
      }
    }
  });
}

drawPanel({ left: 0, top: 0, titleLeft: 40, titleTop: 20, title: 'Generated Events', grid: generatedGrid });
drawPanel({ left: 1099, top: 0, titleLeft: 47, titleTop: 20, title: 'Events - Theta < 10 mrad', grid: thetaGrid });
drawPanel({ left: 0, top: 688, titleLeft: 44, titleTop: 20, title: 'Detector Hits', grid: hitsGrid });
drawPanel({ left: 1099, top: 688, titleLeft: 38, titleTop: 17, title: 'Acceptance', grid: acceptanceGrid });

drawColorBar({ left: 944, top: 79, min: 1, max: 55600, log: true, ticks: logBarTicks, labels: logBarLabels });
drawColorBar({ left: 2043, top: 79, min: 1, max: 55600, log: true, ticks: logBarTicks, labels: logBarLabels });
drawColorBar({ left: 944, top: 767, min: 1, max: 24000, log: true, ticks: logBarTicks, labels: logBarLabels });
drawColorBar({ left: 2043, top: 767, min: 0, max: 1, log: false, ticks: acceptanceBarTicks, labels: acceptanceBarLabels });
</script>
</body>
</html>
